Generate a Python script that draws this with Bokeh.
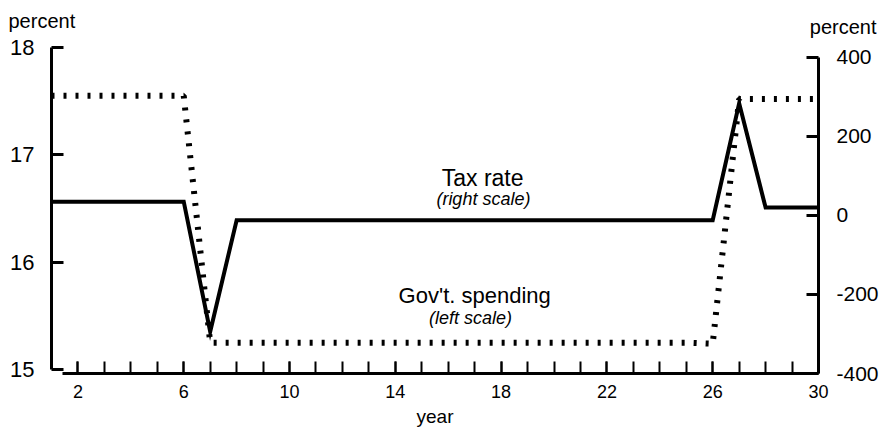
from bokeh.plotting import figure
from bokeh.models import (Range1d, LinearAxis, FixedTicker, Label, ColumnDataSource,
                          Title, CustomJSTickFormatter)
from bokeh.embed import file_html
from bokeh.resources import INLINE

# ---- data ----
years = [1, 2, 3, 4, 5, 6, 7, 8, 9, 10, 11, 12, 13, 14, 15, 16, 17, 18, 19, 20,
         21, 22, 23, 24, 25, 26, 27, 28, 29, 30]
gov_spending = [17.55, 17.55, 17.55, 17.55, 17.55, 17.55, 15.25, 15.25, 15.25, 15.25,
                15.25, 15.25, 15.25, 15.25, 15.25, 15.25, 15.25, 15.25, 15.25, 15.25,
                15.25, 15.25, 15.25, 15.25, 15.25, 15.24, 17.52, 17.52, 17.52, 17.52]
tax_rate = [35, 35, 35, 35, 35, 35, -294, -12, -12, -12,
            -12, -12, -12, -12, -12, -12, -12, -12, -12, -12,
            -12, -12, -12, -12, -12, -12, 284, 20, 20, 20]
x_major_ticks = [2, 6, 10, 14, 18, 22, 26, 30]
x_minor_ticks = [2, 3, 4, 5, 6, 7, 8, 9, 10, 11, 12, 13, 14, 15, 16, 17, 18, 19, 20,
                 21, 22, 23, 24, 25, 26, 27, 28, 29]
left_ticks = [15, 16, 17, 18]
right_ticks = [-400, -200, 0, 200, 400]

FONT = "Liberation Sans"

src = ColumnDataSource(dict(year=years, gov=gov_spending, tax=tax_rate))

p = figure(width=886, height=429, output_backend="svg", toolbar_location=None,
           x_range=Range1d(1, 30), y_range=Range1d(14.963, 18),
           min_border_left=51, min_border_right=68, min_border_top=47, min_border_bottom=54)
p.extra_y_ranges = {"right": Range1d(-400, 425.2)}
p.outline_line_color = None
p.xgrid.visible = False
p.ygrid.visible = False
p.background_fill_color = "white"
p.border_fill_color = "white"

# lines
p.line("year", "gov", source=src, line_color="black", line_width=6,
       line_dash="3 9", line_cap="butt")
p.line("year", "tax", source=src, y_range_name="right", line_color="black",
       line_width=4, line_join="miter")

# x axis
xa = p.xaxis[0]
xa.ticker = FixedTicker(ticks=x_major_ticks, minor_ticks=x_minor_ticks)
xa.bounds = (1.4, 30)
xa.axis_line_width = 3
xa.major_tick_in = 12
xa.major_tick_out = 0
xa.minor_tick_in = 12
xa.minor_tick_out = 0
xa.major_tick_line_width = 2
xa.minor_tick_line_width = 2
xa.major_label_standoff = 11
xa.major_label_text_font = FONT
xa.major_label_text_font_size = "18px"
xa.major_label_text_color = "black"
xa.axis_label = "year"
xa.axis_label_standoff = 5
xa.axis_label_text_font = FONT
xa.axis_label_text_font_size = "19px"
xa.axis_label_text_font_style = "normal"
xa.axis_label_text_color = "black"

# left axis
ya = p.yaxis[0]
ya.ticker = FixedTicker(ticks=left_ticks)
ya.bounds = (15, 18)
ya.axis_line_width = 3
ya.major_tick_in = 12
ya.major_tick_out = 0
ya.major_tick_line_width = 3
ya.minor_tick_line_color = None
ya.major_label_standoff = 17
ya.major_label_text_font = FONT
ya.major_label_text_font_size = "22px"
ya.major_label_text_color = "black"

# right axis
ra = LinearAxis(y_range_name="right", ticker=FixedTicker(ticks=right_ticks))
ra.formatter = CustomJSTickFormatter(code="return tick.toString();")
ra.bounds = (-400, 400)
ra.axis_line_width = 3
ra.major_tick_in = 12
ra.major_tick_out = 0
ra.major_tick_line_width = 3
ra.minor_tick_line_color = None
ra.major_label_standoff = 18
ra.major_label_text_font = FONT
ra.major_label_text_font_size = "21px"
ra.major_label_text_color = "black"
p.add_layout(ra, "right")

# "percent" unit labels above both axes
p.add_layout(Title(text="percent", align="right", offset=-58, standoff=20,
                   text_font=FONT, text_font_size="20px", text_font_style="normal",
                   text_color="black"), "above")
p.add_layout(Title(text="percent", align="left", offset=-43, standoff=-56,
                   text_font=FONT, text_font_size="20px", text_font_style="normal",
                   text_color="black"), "above")

def lab(text, x, y, size, style="normal"):
    p.add_layout(Label(x=x, y=y, text=text, text_font=FONT, text_font_size=size,
                       text_align="center", text_baseline="middle",
                       text_font_style=style, text_color="black"))

lab("Tax rate", 17.3, 16.787, "23px")
lab("(right scale)", 17.33, 16.593, "18px", style="italic")
lab("Gov't. spending", 17.0, 15.685, "22px")
lab("(left scale)", 16.84, 15.48, "18px", style="italic")

open("out.html", "w").write(file_html(p, INLINE))
